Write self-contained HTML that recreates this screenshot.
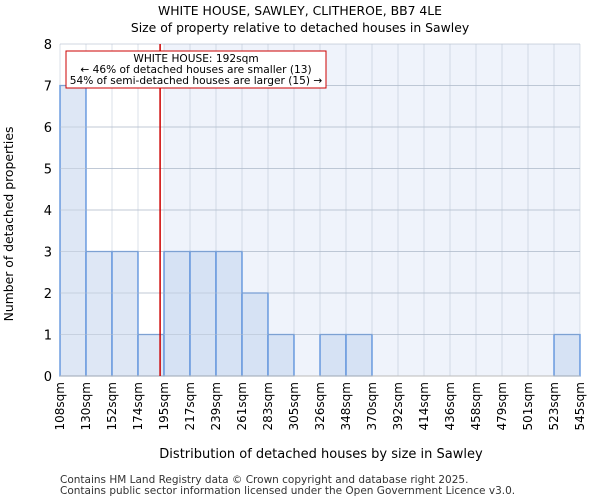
<!DOCTYPE html>
<html><head><meta charset="utf-8"><style>
body{margin:0;background:#fff;font-family:"DejaVu Sans","Liberation Sans",sans-serif}
</style></head><body>
<svg id="c" width="600" height="500" xmlns="http://www.w3.org/2000/svg" font-family="DejaVu Sans, Liberation Sans, sans-serif">
<text x="300" y="15" text-anchor="middle" font-size="12.4">WHITE HOUSE, SAWLEY, CLITHEROE, BB7 4LE</text>
<text x="300" y="32" text-anchor="middle" font-size="12.4">Size of property relative to detached houses in Sawley</text>
<g id="plot"></g>
<text x="321" y="458" text-anchor="middle" font-size="13">Distribution of detached houses by size in Sawley</text>
<text transform="translate(13,224) rotate(-90)" text-anchor="middle" font-size="12.4">Number of detached properties</text>
<text x="60" y="483" font-size="10.5" fill="#333">Contains HM Land Registry data © Crown copyright and database right 2025.</text>
<text x="60" y="494" font-size="10.5" fill="#333">Contains public sector information licensed under the Open Government Licence v3.0.</text>
</svg>
<script>
const categories=["108sqm","130sqm","152sqm","174sqm","195sqm","217sqm","239sqm","261sqm","283sqm","305sqm","326sqm","348sqm","370sqm","392sqm","414sqm","436sqm","458sqm","479sqm","501sqm","523sqm","545sqm"];
const counts=[7,3,3,1,3,3,3,2,1,0,1,1,0,0,0,0,0,0,0,1];
const yTicks=[0,1,2,3,4,5,6,7,8];
const markerBin=3.85;
const ns="http://www.w3.org/2000/svg";
const g=document.getElementById('plot');
const L=60,R=580,T=44,B=376,yMax=8;
const bw=(R-L)/counts.length;
const xs=i=>L+i*bw, ys=v=>B-(B-T)*v/yMax;
function mk(t,a,p){const e=document.createElementNS(ns,t);for(const k in a)e.setAttribute(k,a[k]);(p||g).appendChild(e);return e;}
const mx=xs(markerBin);
const shade=mk('rect',{x:xs(4),y:T,width:R-xs(4),height:B-T,fill:'#eff3fb'});


for(let i=0;i<=counts.length;i++)mk('line',{x1:xs(i),x2:xs(i),y1:T,y2:B,stroke:'#b0bccc','stroke-opacity':0.45});
yTicks.forEach(v=>{mk('line',{x1:L,x2:R,y1:ys(v),y2:ys(v),stroke:'#b0bccc','stroke-opacity':0.6});
const t=mk('text',{x:L-8,y:ys(v)+5,'text-anchor':'end','font-size':13});t.textContent=v;

});
counts.forEach((c,i)=>{if(!c)return;const r=mk('rect',{x:xs(i),y:ys(c),width:bw,height:B-ys(c),fill:i<4?'#dee7f5':'#d6e2f4',stroke:'#4a86d8','stroke-width':1.2});

});
for(let v=1;v<8;v++)mk('line',{x1:L,x2:R,y1:ys(v),y2:ys(v),stroke:'#b0bccc','stroke-opacity':0.5});
mk('line',{x1:L,x2:R,y1:B,y2:B,stroke:'#bbb'});
categories.forEach((c,i)=>{const t=mk('text',{transform:`translate(${xs(i)+4},382) rotate(-90)`,'text-anchor':'end','font-size':12});t.textContent=c;

});
const ml=mk('line',{x1:mx,x2:mx,y1:T,y2:B,stroke:'#cc0000','stroke-width':1.5});


const box=mk('rect',{x:66,y:51,width:260,height:37,fill:'#fff',stroke:'#cc0000'});


["WHITE HOUSE: 192sqm","← 46% of detached houses are smaller (13)","54% of semi-detached houses are larger (15) →"].forEach((s,i)=>{const t=mk('text',{x:196,y:62+i*11,'text-anchor':'middle','font-size':10.6});t.textContent=s;

});
</script>
</body></html>
